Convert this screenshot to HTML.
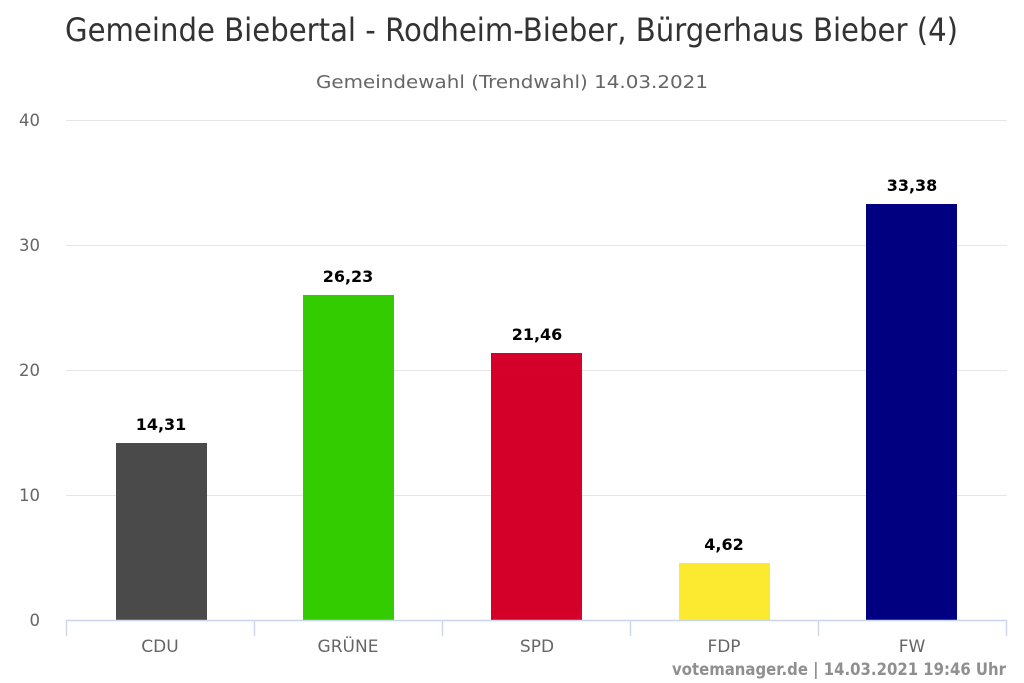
<!DOCTYPE html>
<html><head><meta charset="utf-8"><style>
html,body{margin:0;padding:0;background:#fff;}
svg{display:block;}
</style></head><body>
<svg width="1024" height="683" viewBox="0 0 1024 683" xmlns="http://www.w3.org/2000/svg">
<rect width="1024" height="683" fill="#fff"/>
<g font-family="'DejaVu Sans','Liberation Sans',sans-serif">
<text x="65" y="41" font-size="32" fill="#333333" textLength="893" lengthAdjust="spacingAndGlyphs">Gemeinde Biebertal - Rodheim-Bieber, Bürgerhaus Bieber (4)</text>
<text x="316" y="88" font-size="18" fill="#666666" textLength="392" lengthAdjust="spacingAndGlyphs">Gemeindewahl (Trendwahl) 14.03.2021</text>
<g stroke="#e6e6e6" stroke-width="1">
<line x1="66" y1="120.5" x2="1007" y2="120.5"/>
<line x1="66" y1="245.5" x2="1007" y2="245.5"/>
<line x1="66" y1="370.5" x2="1007" y2="370.5"/>
<line x1="66" y1="495.5" x2="1007" y2="495.5"/>
</g>
<g font-size="16.5" fill="#666666" text-anchor="end">
<text x="40" y="126">40</text>
<text x="40" y="251">30</text>
<text x="40" y="376">20</text>
<text x="40" y="501">10</text>
<text x="40" y="626">0</text>
</g>
<rect x="116" y="443" width="91" height="177" fill="#4a4a4a"/>
<rect x="303" y="295" width="91" height="325" fill="#33cc00"/>
<rect x="491" y="353" width="91" height="267" fill="#d5002a"/>
<rect x="679" y="563" width="91" height="57" fill="#fbea2f"/>
<rect x="866" y="204" width="91" height="416" fill="#000080"/>
<g stroke="#ccd6eb" stroke-width="1.5">
<line x1="66" y1="620.5" x2="1007" y2="620.5"/>
<line x1="66.5" y1="620" x2="66.5" y2="636"/>
<line x1="254.5" y1="620" x2="254.5" y2="636"/>
<line x1="442.5" y1="620" x2="442.5" y2="636"/>
<line x1="630.5" y1="620" x2="630.5" y2="636"/>
<line x1="818.5" y1="620" x2="818.5" y2="636"/>
<line x1="1006.5" y1="620" x2="1006.5" y2="636"/>
</g>
<g font-size="16" font-weight="bold" fill="#000000" text-anchor="middle">
<text x="161" y="430">14,31</text>
<text x="348" y="282">26,23</text>
<text x="537" y="340">21,46</text>
<text x="724" y="550">4,62</text>
<text x="912" y="191">33,38</text>
</g>
<g font-size="17" fill="#666666" text-anchor="middle">
<text x="160" y="652">CDU</text>
<text x="348" y="652">GRÜNE</text>
<text x="537" y="652">SPD</text>
<text x="724" y="652">FDP</text>
<text x="912" y="652">FW</text>
</g>
<text x="672" y="675" font-size="17" font-weight="bold" fill="#8f8f8f" textLength="334" lengthAdjust="spacingAndGlyphs">votemanager.de | 14.03.2021 19:46 Uhr</text>
</g>
</svg>
</body></html>
